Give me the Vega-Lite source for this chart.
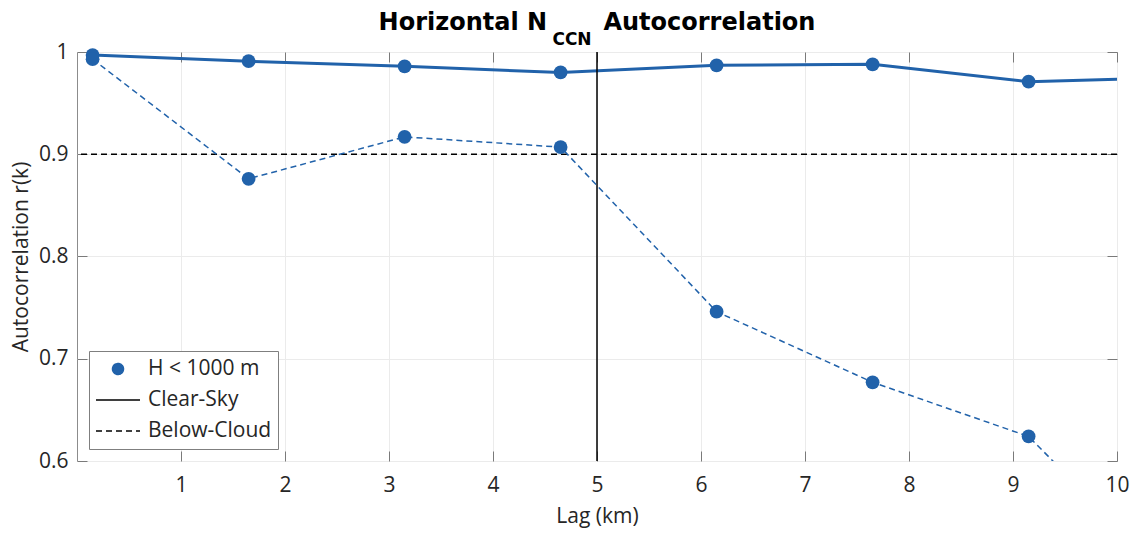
{
  "$schema": "https://vega.github.io/schema/vega-lite/v6.json",
  "width": 1040,
  "height": 409,
  "autosize": {"type": "none"},
  "padding": {"left": 77, "top": 52, "right": 17, "bottom": 72},
  "background": "white",
  "config": {
    "font": "Open Sans",
    "view": {"stroke": "#8c8c8c", "strokeWidth": 1}
  },
  "title": {
    "text": "Horizontal N\u2003\u2003 Autocorrelation",
    "subtitle": "CCN",
    "font": "DejaVu Sans",
    "subtitleFont": "DejaVu Sans",
    "fontSize": 24,
    "fontWeight": "bold",
    "color": "#000000",
    "subtitleFontSize": 17,
    "subtitleFontWeight": "bold",
    "subtitleColor": "#000000",
    "subtitlePadding": -3,
    "offset": -7,
    "encode": {"subtitle": {"update": {"dx": {"value": -25}}}}
  },
  "datasets": {
    "series": [
      {"lag": 0.15, "r": 0.997, "series": "Clear-Sky"},
      {"lag": 1.65, "r": 0.991, "series": "Clear-Sky"},
      {"lag": 3.15, "r": 0.986, "series": "Clear-Sky"},
      {"lag": 4.65, "r": 0.980, "series": "Clear-Sky"},
      {"lag": 6.15, "r": 0.987, "series": "Clear-Sky"},
      {"lag": 7.65, "r": 0.988, "series": "Clear-Sky"},
      {"lag": 9.15, "r": 0.971, "series": "Clear-Sky"},
      {"lag": 10.65, "r": 0.975, "series": "Clear-Sky"},
      {"lag": 0.15, "r": 0.993, "series": "Below-Cloud"},
      {"lag": 1.65, "r": 0.876, "series": "Below-Cloud"},
      {"lag": 3.15, "r": 0.917, "series": "Below-Cloud"},
      {"lag": 4.65, "r": 0.907, "series": "Below-Cloud"},
      {"lag": 6.15, "r": 0.746, "series": "Below-Cloud"},
      {"lag": 7.65, "r": 0.677, "series": "Below-Cloud"},
      {"lag": 9.15, "r": 0.624, "series": "Below-Cloud"},
      {"lag": 10.65, "r": 0.47, "series": "Below-Cloud"}
    ],
    "legend": [
      {"label": "H < 1000 m"},
      {"label": "Clear-Sky"},
      {"label": "Below-Cloud"}
    ],
    "vline": [{"lag": 5}],
    "hline": [{"r": 0.9}]
  },
  "resolve": {"axis": {"x": "independent", "y": "independent"}},
  "layer": [
    {
      "data": {"name": "series"},
      "transform": [{"filter": "datum.series === 'Clear-Sky'"}],
      "mark": {"type": "line", "color": "#2162aa", "strokeWidth": 3, "clip": true},
      "encoding": {
        "x": {
          "field": "lag", "type": "quantitative",
          "scale": {"domain": [0, 10], "nice": false, "zero": false},
          "axis": {
            "title": "Lag (km)",
            "values": [1, 2, 3, 4, 5, 6, 7, 8, 9, 10],
            "grid": true, "gridColor": "#ebebeb", "gridWidth": 1,
            "domain": false,
            "tickSize": -10, "tickColor": "#7a7a7a", "tickWidth": 1,
            "labelFlush": false,
            "labelFontSize": 21, "labelColor": "#262626", "labelPadding": 23,
            "titleFontSize": 21, "titleFontWeight": "normal", "titleColor": "#262626", "titlePadding": 10
          }
        },
        "y": {
          "field": "r", "type": "quantitative",
          "scale": {"domain": [0.6, 1], "nice": false, "zero": false},
          "axis": {
            "title": "Autocorrelation r(k)",
            "values": [0.6, 0.7, 0.8, 0.9, 1],
            "format": "~g",
            "grid": true, "gridColor": "#ebebeb", "gridWidth": 1,
            "domain": false,
            "tickSize": -10, "tickColor": "#7a7a7a", "tickWidth": 1,
            "labelFontSize": 21, "labelColor": "#262626", "labelPadding": 19,
            "titleFontSize": 21, "titleFontWeight": "normal", "titleColor": "#262626", "titlePadding": 7
          }
        }
      }
    },
    {
      "data": {"name": "vline"},
      "mark": {"type": "rule", "color": "#000000", "strokeWidth": 1.5},
      "encoding": {
        "x": {"field": "lag", "type": "quantitative", "axis": null}
      }
    },
    {
      "data": {"name": "hline"},
      "mark": {"type": "rule", "color": "#000000", "strokeWidth": 1.5, "strokeDash": [6, 4]},
      "encoding": {
        "y": {"field": "r", "type": "quantitative", "axis": null}
      }
    },
    {
      "data": {"name": "series"},
      "transform": [{"filter": "datum.series === 'Below-Cloud'"}],
      "mark": {"type": "line", "color": "#2162aa", "strokeWidth": 1.5, "strokeDash": [6, 4], "clip": true},
      "encoding": {
        "x": {
          "field": "lag", "type": "quantitative",
          "axis": {"orient": "top", "labels": false, "title": null, "grid": false, "domain": false,
                   "values": [1, 2, 3, 4, 5, 6, 7, 8, 9, 10],
                   "tickSize": -10, "tickColor": "#7a7a7a", "tickWidth": 1}
        },
        "y": {
          "field": "r", "type": "quantitative",
          "axis": {"orient": "right", "labels": false, "title": null, "grid": false, "domain": false,
                   "values": [0.6, 0.7, 0.8, 0.9, 1],
                   "tickSize": -10, "tickColor": "#7a7a7a", "tickWidth": 1}
        }
      }
    },
    {
      "data": {"name": "series"},
      "transform": [{"filter": "datum.lag <= 10"}],
      "mark": {"type": "point", "filled": true, "opacity": 1, "size": 190, "color": "#2162aa"},
      "encoding": {
        "x": {"field": "lag", "type": "quantitative", "axis": null},
        "y": {"field": "r", "type": "quantitative", "axis": null}
      }
    },
    {
      "data": {"name": "legend"},
      "mark": {"type": "point", "opacity": 0, "size": 1},
      "encoding": {
        "color": {
          "field": "label", "type": "nominal",
          "scale": {"domain": ["H < 1000 m", "Clear-Sky", "Below-Cloud"], "range": ["#2162aa", "#000000", "#000000"]},
          "legend": {
            "title": null,
            "orient": "bottom-left",
            "offset": 12,
            "padding": 6,
            "fillColor": "white",
            "strokeColor": "#7f7f7f",
            "labelFontSize": 21,
            "labelColor": "#262626",
            "labelOffset": 7,
            "symbolSize": 1936,
            "clipHeight": 24,
            "rowPadding": 7,
            "zindex": 1,
            "encoding": {
              "symbols": {
                "shape": {"value": {"expr": "datum.value === 'H < 1000 m' ? 'circle' : 'stroke'"}},
                "size": {"value": {"expr": "datum.value === 'H < 1000 m' ? 121 : 1936"}},
                "fill": {"value": {"expr": "datum.value === 'H < 1000 m' ? '#2162aa' : 'transparent'"}},
                "stroke": {"value": {"expr": "datum.value === 'H < 1000 m' ? 'transparent' : '#000000'"}},
                "strokeDash": {"value": {"expr": "datum.value === 'Below-Cloud' ? [6, 4] : [1, 0]"}},
                "strokeWidth": {"value": 1.5},
                "opacity": {"value": 1}
              }
            }
          }
        }
      }
    }
  ]
}
